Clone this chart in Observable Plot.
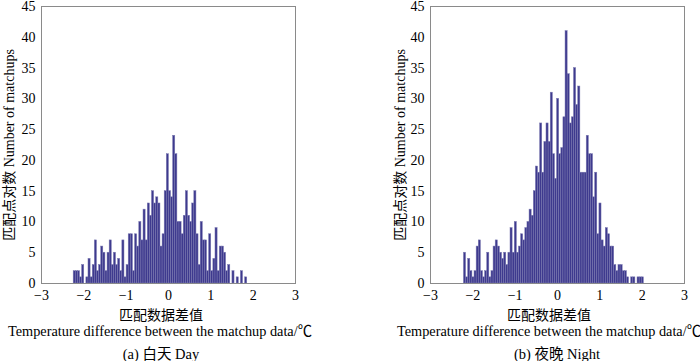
<!DOCTYPE html>
<html>
<head>
<meta charset="utf-8">
<script src="https://cdn.jsdelivr.net/npm/d3@7"></script>
<script src="https://cdn.jsdelivr.net/npm/@observablehq/plot@0.6"></script>
<style>
  html, body { margin: 0; padding: 0; background: #fff; }
  #wrap { position: relative; width: 700px; height: 361px; overflow: hidden;
          font-family: "Liberation Serif", "Noto Sans CJK SC", serif; color: #000; }
  .panel { position: absolute; top: 0; }
  .cap { position: absolute; width: 420px; text-align: center; white-space: nowrap; line-height: 1; }
</style>
</head>
<body>
<div id="wrap"></div>
<script>
// ---- data ----
const ticksX = [-3, -2, -1, 0, 1, 2, 3];
const ticksY = [0, 5, 10, 15, 20, 25, 30, 35, 40, 45];
const binWidth = 0.05;
const dayStart = -2.24;
const nightStart = -2.21;
const dayCounts = [2,2,2,1,3,0,1,4,1,3, 7,2,3,6,5,2,5,7,3,5, 3,4,2,7,1,3,8,8,2,8,
  6,10,7,12,7,13,11,15,13,14, 13,6,8,15,21,15,14,24,21,10, 10,8,11,15,11,10,13,15,8,3,
  10,7,7,2,8,2,4,9,2,6, 6,5,2,3,0,2,0,1,0,2, 0,1];
const nightCounts = [5,1,4,2,1,2,6,7,2,1, 2,5,1,2,6,7,6,5,4,5, 3,5,9,5,10,5,6,8,7,9,
  10,12,11,15,19,18,26,18,23,26, 23,31,21,17,30,21,22,27, 41,
  34,26,27,35,29,32,18,18,18,24, 21,21,14,18,8,13,7,6,9,8, 6,6,3,2,3,3,2,2,1,0, 1,1,0,1,1,1];
const yLabel = "匹配点对数 Number of matchups";
const xLabel1 = "匹配数据差值";
const xLabel2 = "Temperature difference between the matchup data/℃";
const titles = ["(a) 白天 Day", "(b) 夜晚 Night"];

const font = '"Liberation Serif", "Noto Sans CJK SC", serif';

function bins(counts, start) {
  return counts.map((c, i) => ({x1: start + i * binWidth, x2: start + (i + 1) * binWidth, count: c}));
}

function panel(counts, start, mLeft, mRight, labelDx) {
  return Plot.plot({
    width: 350, height: 300,
    marginLeft: mLeft, marginRight: mRight, marginTop: 6, marginBottom: 17,
    style: {fontFamily: font, fontSize: "14px", color: "#000", background: "#fff", overflow: "visible"},
    x: {domain: [-3, 3], ticks: ticksX, tickFormat: d3.format("d"), tickSize: 0, tickPadding: 7, label: null},
    y: {domain: [0, 45], ticks: ticksY, tickFormat: d3.format("d"), tickSize: 0, tickPadding: 6, label: null},
    marks: [
      Plot.rectY(bins(counts, start), {x1: "x1", x2: "x2", y: "count",
        fill: "#3e3a8e", stroke: "#7a78b0", strokeWidth: 0.5}),
      Plot.frame({stroke: "#8a8a8a"}),
      Plot.text([yLabel], {frameAnchor: "left", dx: labelDx, rotate: -90,
        textAnchor: "middle", fontSize: 14, fill: "#000"})
    ]
  });
}

const wrap = document.getElementById("wrap");
const p1 = panel(dayCounts, dayStart, 41, 55, -32);
const p2 = panel(nightCounts, nightStart, 80, 16, -30);
const d1 = document.createElement("div"); d1.className = "panel"; d1.style.left = "0px"; d1.appendChild(p1);
const d2 = document.createElement("div"); d2.className = "panel"; d2.style.left = "350px"; d2.appendChild(p2);
wrap.appendChild(d1); wrap.appendChild(d2);

function cap(text, cx, top, size) {
  const el = document.createElement("div");
  el.className = "cap";
  el.textContent = text;
  el.style.left = (cx - 210) + "px";
  el.style.top = top + "px";
  el.style.fontSize = size + "px";
  wrap.appendChild(el);
}
cap(xLabel1, 161, 309, 14);
cap(xLabel2, 160, 324, 14.3);
cap(titles[0], 161, 347, 14.5);
cap(xLabel1, 549, 309, 14);
cap(xLabel2, 549, 324, 14.3);
cap(titles[1], 557, 347, 14.5);
</script>
</body>
</html>
